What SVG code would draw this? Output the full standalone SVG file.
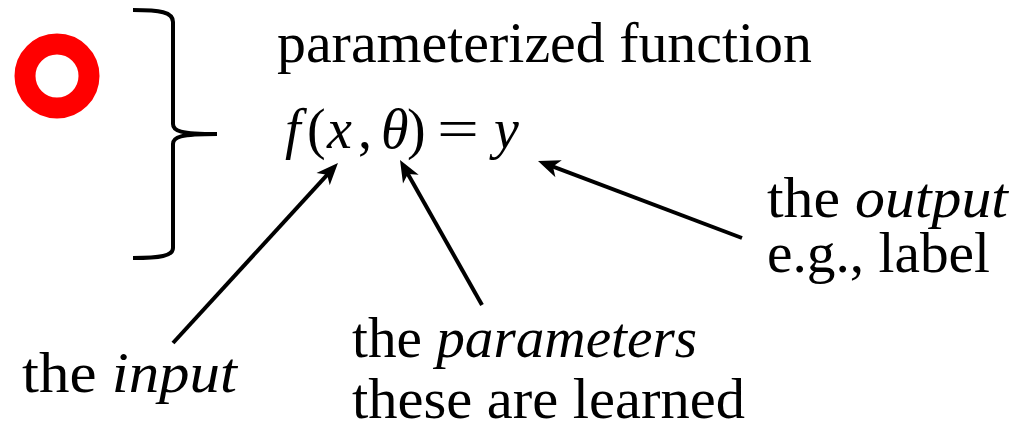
<svg xmlns="http://www.w3.org/2000/svg" width="1020" height="432" viewBox="0 0 1020 432">
<style>
  .t { font-size: 56px; fill: #000; }
  .it { font-style: italic; }
  .conn { stroke: #000; stroke-width: 4; fill: none; stroke-linecap: butt; }
</style>
<defs>
  <marker id="ah" viewBox="-24 -12 26 24" refX="-14" refY="0" markerWidth="26" markerHeight="24" markerUnits="userSpaceOnUse" orient="auto">
    <path d="M0,0 L-22,-9 L-16,0 L-22,9 Z" fill="#000"/>
  </marker>
</defs>
<rect width="1020" height="432" fill="#fff"/>
<g id="ring">
  <circle cx="57" cy="76" r="32" fill="none" stroke="#ff0000" stroke-width="21"/>
</g>
<g id="brace">
  <path class="conn" d="M133,10 C160,10 173,12 173,22 L173,124 C173,131 180,134 217,134 M217,134 C180,134 173,137 173,144 L173,248 C173,256 160,258 133,258"/>
</g>
<g id="title">
  <text class="t" font-family="Liberation Serif, serif" x="277" y="62" textLength="535" lengthAdjust="spacingAndGlyphs">parameterized function</text>
</g>
<g id="formula">
  <text class="t" font-family="Liberation Serif, serif" y="148"><tspan class="it" x="285">f</tspan><tspan x="307">(</tspan><tspan class="it" x="327">x</tspan><tspan x="358">,</tspan><tspan class="it" x="381">θ</tspan><tspan x="407">)</tspan><tspan x="437" textLength="42" lengthAdjust="spacingAndGlyphs">=</tspan><tspan class="it" x="494">y</tspan></text>
</g>
<g id="input-label">
  <text class="t" font-family="Liberation Serif, serif" x="22" y="392" textLength="215" lengthAdjust="spacingAndGlyphs">the <tspan class="it">input</tspan></text>
</g>
<g id="parameters-label">
  <text class="t" font-family="Liberation Serif, serif" x="352" y="357" textLength="345" lengthAdjust="spacingAndGlyphs">the <tspan class="it">parameters</tspan></text>
  <text class="t" font-family="Liberation Serif, serif" x="352" y="418" textLength="393" lengthAdjust="spacingAndGlyphs">these are learned</text>
</g>
<g id="output-label">
  <text class="t" font-family="Liberation Serif, serif" x="767" y="217" textLength="241" lengthAdjust="spacingAndGlyphs">the <tspan class="it">output</tspan></text>
  <text class="t" font-family="Liberation Serif, serif" x="767" y="272" textLength="223" lengthAdjust="spacingAndGlyphs">e.g., label</text>
</g>
<g id="connectors">
  <line class="conn" x1="173" y1="343" x2="328.5" y2="173.3" marker-end="url(#ah)"/>
  <line class="conn" x1="482" y1="305" x2="406.9" y2="172.2" marker-end="url(#ah)"/>
  <line class="conn" x1="742" y1="238" x2="551.1" y2="165.9" marker-end="url(#ah)"/>
</g>
</svg>
